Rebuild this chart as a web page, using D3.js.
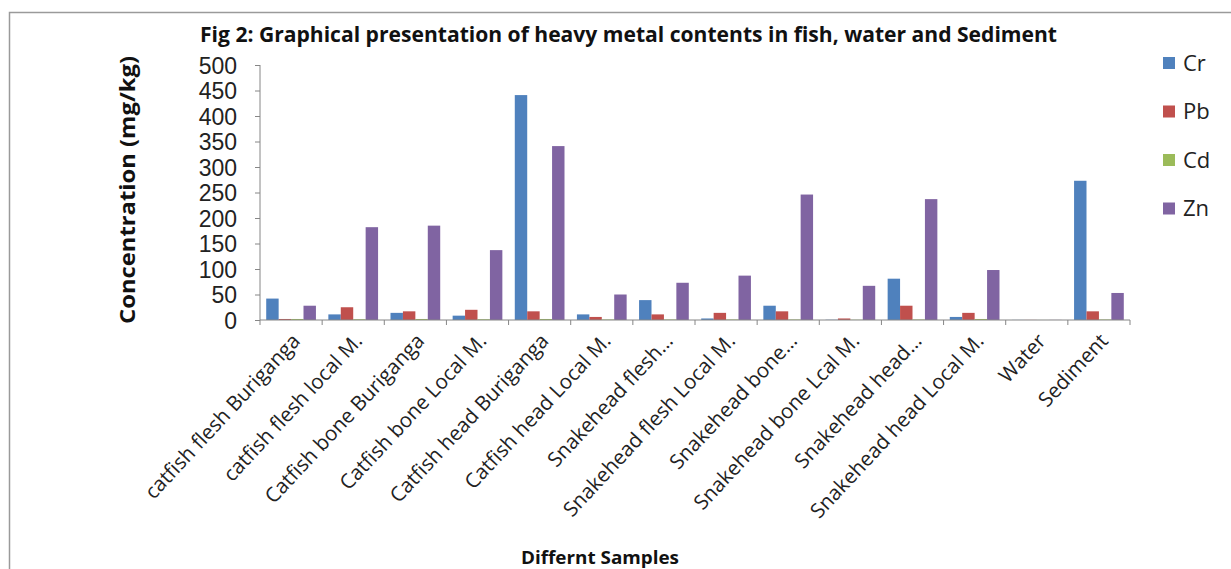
<!DOCTYPE html>
<html lang="en">
<head>
<meta charset="utf-8">
<title>Heavy metal contents</title>
<style>
  body { margin: 0; background: #fff; overflow: hidden; font-family: "Open Sans", sans-serif; }
  .axis path, .axis line { stroke: #868686; }
  .axis text { fill: #222; }
</style>
</head>
<body>
<div id="chart"></div>
<script src="https://cdn.jsdelivr.net/npm/d3@7"></script>
<script>
// data
var samples = ["catfish flesh Buriganga", "catfish flesh local M.", "Catfish bone Buriganga",
  "Catfish bone Local M.", "Catfish head Buriganga", "Catfish head Local M.", "Snakehead flesh\u2026",
  "Snakehead flesh Local M.", "Snakehead bone\u2026", "Snakehead bone Lcal M.", "Snakehead head\u2026",
  "Snakehead head Local M.", "Water", "Sediment"];
var metals = ["Cr", "Pb", "Cd", "Zn"];
var colors = ["#4f81bd", "#c0504d", "#9bbb59", "#8064a2"];
var cr = [42, 11, 14, 8.5, 441, 11, 39, 3, 28, 0.5, 81, 6, 0.2, 273];
var pb = [2, 25, 17, 20, 17, 6, 11, 14, 17, 3, 28, 14, 0.2, 17];
var cd = [2, 1.5, 2, 1.5, 2, 1, 1, 1, 1, 0.5, 1, 2, 0.1, 1];
var zn = [28, 182, 185, 137, 341, 50, 73, 87, 246, 67, 237, 98, 0.2, 53];
var yTicks = [0, 50, 100, 150, 200, 250, 300, 350, 400, 450, 500];

var series = [cr, pb, cd, zn];

var W = 1231, H = 569;
var svg = d3.select("#chart").append("svg")
  .attr("width", W)
  .attr("height", H);

// outer frame
svg.append("path")
  .attr("d", "M9.5,580 L9.5,12.5 L1240,12.5")
  .attr("fill", "none")
  .attr("stroke", "#9a9a9a")
  .attr("stroke-width", 1.5);

var pLeft = 260, pRight = 1130, pTop = 65, pBottom = 320;

var x = d3.scaleBand().domain(samples).range([pLeft, pRight]).paddingInner(0).paddingOuter(0);
var xb = d3.scaleBand().domain(metals).range([0, x.bandwidth()]).paddingInner(0).paddingOuter(0.5);
var y = d3.scaleLinear().domain([0, 500]).range([pBottom, pTop]);

// bars
var groups = svg.append("g").selectAll("g")
  .data(samples)
  .enter().append("g")
  .attr("transform", function(d) { return "translate(" + x(d) + ",0)"; });

groups.selectAll("rect")
  .data(function(d, i) { return metals.map(function(m, j) { return {m: m, v: series[j][i], c: colors[j]}; }); })
  .enter().append("rect")
  .attr("x", function(d) { return xb(d.m); })
  .attr("width", xb.bandwidth())
  .attr("y", function(d) { return y(d.v); })
  .attr("height", function(d) { return pBottom - y(d.v); })
  .attr("fill", function(d) { return d.c; });

// y axis
var yAxis = svg.append("g")
  .attr("class", "axis")
  .attr("transform", "translate(" + pLeft + ",0)")
  .call(d3.axisLeft(y).tickValues(yTicks).tickSize(5).tickPadding(18));
yAxis.selectAll("text").style("font-size", "23px").attr("dy", "0.36em");
yAxis.select(".domain").attr("d", "M0," + pTop + "V" + pBottom);

// x axis with ticks between groups
var xAxis = svg.append("g")
  .attr("class", "axis")
  .attr("transform", "translate(0," + pBottom + ")");
xAxis.append("line").attr("x1", pLeft).attr("x2", pRight).attr("stroke", "#868686");
xAxis.selectAll(".tk")
  .data(samples.concat(["end"]))
  .enter().append("line")
  .attr("class", "tk")
  .attr("x1", function(d, i) { return pLeft + i * x.step(); })
  .attr("x2", function(d, i) { return pLeft + i * x.step(); })
  .attr("y1", 0).attr("y2", 5)
  .attr("stroke", "#868686");

// category labels
svg.append("g").selectAll("text")
  .data(samples)
  .enter().append("text")
  .attr("transform", function(d) { return "translate(" + (x(d) + x.bandwidth() / 2 + 5) + "," + 337 + ") rotate(-47)"; })
  .attr("text-anchor", "end")
  .attr("dy", "0.35em")
  .style("font-size", "20.5px")
  .style("fill", "#222")
  .text(function(d) { return d; });

// titles
svg.append("text")
  .attr("x", 200).attr("y", 42)
  .attr("textLength", 857).attr("lengthAdjust", "spacingAndGlyphs")
  .style("font-size", "21px").style("font-weight", "bold").style("fill", "#111")
  .text("Fig 2: Graphical presentation of heavy metal contents in fish, water and Sediment");

svg.append("text")
  .attr("transform", "translate(135,190) rotate(-90)")
  .attr("text-anchor", "middle")
  .attr("textLength", 268).attr("lengthAdjust", "spacingAndGlyphs")
  .style("font-size", "21px").style("font-weight", "bold").style("fill", "#111")
  .text("Concentration (mg/kg)");

svg.append("text")
  .attr("x", 600).attr("y", 564)
  .attr("text-anchor", "middle")
  .attr("textLength", 158).attr("lengthAdjust", "spacingAndGlyphs")
  .style("font-size", "18px").style("font-weight", "bold").style("fill", "#111")
  .text("Differnt Samples");

// legend
var legend = svg.append("g").selectAll("g")
  .data(metals)
  .enter().append("g")
  .attr("transform", function(d, i) { return "translate(1163," + (63 + i * 48.5) + ")"; });
legend.append("rect")
  .attr("x", 0).attr("y", -6).attr("width", 12).attr("height", 12)
  .attr("fill", function(d, i) { return colors[i]; });
legend.append("text")
  .attr("x", 20).attr("dy", "0.36em")
  .style("font-size", "22px").style("fill", "#222")
  .text(function(d) { return d; });
</script>
</body>
</html>
